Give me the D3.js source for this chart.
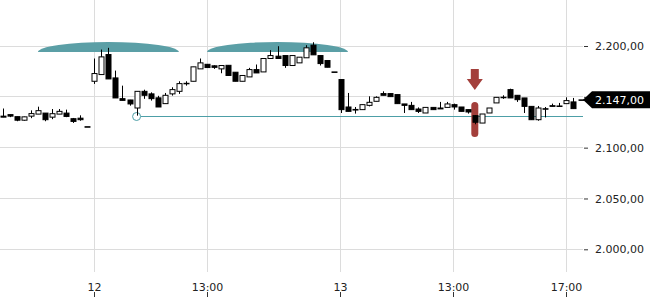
<!DOCTYPE html>
<html>
<head>
<meta charset="utf-8">
<script src="https://cdnjs.cloudflare.com/ajax/libs/d3/7.8.5/d3.min.js"></script>
<style>
body { margin: 0; background: #fff; }
svg { display: block; font-family: "DejaVu Sans", sans-serif; }
</style>
</head>
<body>
<script>
// candle values, one per 15 min bar
var opens = [2131, 2132.5, 2130.5, 2127, 2131, 2133, 2134, 2130, 2133, 2134, 2128.5, 2129, 2120.6,
	2165.3, 2171.9, 2191.6, 2168.6, 2148.2, 2146.9, 2139, 2155.4, 2152.9, 2149, 2143.3, 2152.9, 2155.4,
	2163.3, 2165.3, 2177.5, 2182, 2180.5, 2177.5, 2181, 2174.2, 2165.3, 2169.6, 2176.8, 2174.5, 2187.7,
	2190, 2190.6, 2180.8, 2183.4, 2188.4, 2200.8, 2190.6, 2185.7, 2174.5,
	2167, 2140, 2137.6, 2137.4, 2141.6, 2145.6, 2153.2, 2153.2, 2152.2, 2143, 2141.6, 2138, 2134.1,
	2139.6, 2139, 2139.6, 2142.3, 2140, 2137.4, 2131.5, 2124.2, 2134.1, 2144, 2149.6, 2157.1, 2151.5,
	2148.9, 2140.6, 2127.5, 2138.3, 2141.3, 2141, 2143.3, 2145, 2147];
var highs = [2138.5, 2132.5, 2130.5, 2130.5, 2136.7, 2140.3, 2134, 2138, 2138, 2137.4, 2129.2, 2131.8, 2120.6,
	2187.7, 2196.5, 2198.2, 2175.8, 2161, 2147, 2155.4, 2157, 2154.4, 2151, 2153.8, 2159.4, 2165.3,
	2165.3, 2179.5, 2187.7, 2182, 2181, 2180.8, 2181, 2174.2, 2171, 2178.5, 2181.8, 2187.7, 2195.9,
	2199.8, 2190.6, 2190.6, 2189, 2200.8, 2203.7, 2190.6, 2185.7, 2174.5,
	2167, 2153.8, 2140, 2142.3, 2150.5, 2150.5, 2155.4, 2153.2, 2152.2, 2143, 2145, 2139.6, 2139.6,
	2139.6, 2145, 2145, 2143.3, 2140, 2137.4, 2132, 2133.1, 2139, 2149.5, 2151.5, 2158, 2151.5,
	2148.9, 2140.6, 2141, 2140, 2143.3, 2144, 2149.5, 2148.9, 2147];
var lows = [2130, 2130, 2126, 2126.5, 2129, 2133, 2126, 2128, 2133, 2130, 2124.3, 2126.5, 2120.6,
	2162.7, 2171.9, 2167.6, 2148.9, 2146.5, 2141.3, 2131.5, 2148, 2146.3, 2140, 2143.3, 2151.2, 2152.9,
	2161, 2165.3, 2177.5, 2178.8, 2177.5, 2173.2, 2171, 2165.3, 2165.3, 2169.6, 2173.5, 2174.5, 2187.7,
	2187.7, 2178.5, 2180.8, 2183.4, 2188.4, 2191.3, 2180.8, 2179.1, 2174.5,
	2134.1, 2135.7, 2133.5, 2137.4, 2140.6, 2145.6, 2151.5, 2150.2, 2143.3, 2134.1, 2137.4, 2134.1, 2134.1,
	2137.4, 2138.1, 2139.6, 2137.4, 2135.7, 2133.5, 2123, 2124.2, 2134.1, 2144, 2148, 2148.9, 2145,
	2134.1, 2127.5, 2126.5, 2129.7, 2140.6, 2140.5, 2143.3, 2138.4, 2147];
var closes = [2130, 2131, 2127, 2130.3, 2133.5, 2136.4, 2127.5, 2133.4, 2135.7, 2130.7, 2125.8, 2127.5, 2120.6,
	2172.9, 2189.3, 2167.6, 2148.9, 2146.5, 2143, 2155.4, 2151.5, 2148.2, 2140, 2151.5, 2157.1, 2163,
	2163.3, 2179.5, 2183.4, 2178.8, 2179, 2180.8, 2171, 2165.3, 2171, 2176.8, 2173.5, 2187.7, 2190.6,
	2187.7, 2180.8, 2190.6, 2189, 2198.2, 2191.3, 2182.7, 2179.1, 2174.5,
	2137.4, 2135.7, 2137, 2142.3, 2144.6, 2149.5, 2151.5, 2150.2, 2143.3, 2141.6, 2137.4, 2135.7, 2139.6,
	2137.4, 2138.1, 2143, 2140, 2135.7, 2135.1, 2125, 2133.1, 2139, 2149.5, 2149.4, 2148.9, 2147.2,
	2140.6, 2127.5, 2139, 2138, 2140.6, 2140.5, 2146.3, 2138.4, 2147];

// time axis labels sit on bar numbers
var timeTickIndex = [13, 29, 48, 64, 80];
var timeTickLabels = ["12", "13:00", "13", "13:00", "17:00"];
var priceTicks = [2000, 2050, 2100, 2150, 2200];

var lastPrice = 2147;
var supportLevel = 2131.5;
var supportIndex = 19;
var domeRanges = [[5, 25], [29, 49]];
var markerIndex = 67;

var width = 650, height = 300;
var plotRight = 583;

var svg = d3.select("body").append("svg")
	.attr("width", width)
	.attr("height", height);

var x = d3.scaleLinear().domain([0, opens.length - 1]).range([2.7, 580.5]);
var y = d3.scaleLinear().domain([2000, 2200]).range([249.3, 46]);

var de = d3.formatLocale({decimal: ",", thousands: ".", grouping: [3], currency: ["", " €"]});
var priceFormat = de.format(",.2f");

// grid
svg.append("g").selectAll("line")
	.data(priceTicks)
	.enter().append("line")
	.attr("x1", 0).attr("x2", plotRight)
	.attr("y1", function(d) { return Math.floor(y(d)) + 0.5; })
	.attr("y2", function(d) { return Math.floor(y(d)) + 0.5; })
	.attr("stroke", "#dcdcdc");

svg.append("g").selectAll("line")
	.data(timeTickIndex)
	.enter().append("line")
	.attr("x1", function(d) { return Math.floor(x(d)) + 0.5; })
	.attr("x2", function(d) { return Math.floor(x(d)) + 0.5; })
	.attr("y1", 0).attr("y2", 272)
	.attr("stroke", "#dcdcdc");

// domes over the highs
svg.append("g").selectAll("path")
	.data(domeRanges)
	.enter().append("path")
	.attr("d", function(d) {
		var x0 = x(d[0]), x1 = x(d[1]);
		var rx = (x1 - x0) / 2;
		return "M" + x0 + ",52 A" + rx + ",10 0 0 1 " + x1 + ",52 Z";
	})
	.attr("fill", "#5b9fa6");

// support line from the marked low
var sy = Math.round(y(supportLevel)) + 0.5;
svg.append("line")
	.attr("x1", x(supportIndex) + 4).attr("x2", plotRight)
	.attr("y1", sy).attr("y2", sy)
	.attr("stroke", "#4d9fa7");
svg.append("circle")
	.attr("cx", x(supportIndex)).attr("cy", sy)
	.attr("r", 4)
	.attr("fill", "#fff")
	.attr("stroke", "#4d9fa7");

// red marker
var mx = x(markerIndex);
svg.append("rect")
	.attr("x", mx - 3.5).attr("y", 102)
	.attr("width", 7).attr("height", 35)
	.attr("rx", 3.5)
	.attr("fill", "#a33f3b");
svg.append("path")
	.attr("d", "M" + (mx - 4) + ",69 L" + (mx + 4) + ",69 L" + (mx + 4) + ",79 L" + (mx + 8) + ",79 L" + mx + ",90 L" + (mx - 8) + ",79 L" + (mx - 4) + ",79 Z")
	.attr("fill", "#a33f3b");

// candles
var candles = svg.append("g").selectAll("g")
	.data(opens.map(function(o, i) { return {i: i, o: o, h: highs[i], l: lows[i], c: closes[i]}; }))
	.enter().append("g");

candles.append("line")
	.attr("x1", function(d) { return Math.round(x(d.i)) + 0.5; })
	.attr("x2", function(d) { return Math.round(x(d.i)) + 0.5; })
	.attr("y1", function(d) { return y(d.h); })
	.attr("y2", function(d) { return y(d.l); })
	.attr("stroke", "#000");

candles.append("rect")
	.attr("x", function(d) { return Math.round(x(d.i)) - 2; })
	.attr("width", 5)
	.attr("y", function(d) { return y(Math.max(d.o, d.c)); })
	.attr("height", function(d) { return Math.max(0.5, Math.abs(y(d.o) - y(d.c))); })
	.attr("fill", function(d) { return d.c > d.o ? "#fff" : "#000"; })
	.attr("stroke", "#000");

// price axis on the right, the label under the price tag stays hidden
var yAxis = svg.append("g")
	.attr("transform", "translate(" + (plotRight + 1) + ",0)")
	.call(d3.axisRight(y).tickValues(priceTicks)
		.tickFormat(function(d) { return Math.abs(y(d) - y(lastPrice)) < 12 ? "" : priceFormat(d); })
		.tickSize(4).tickPadding(7));
yAxis.select(".domain").remove();
yAxis.selectAll("line").attr("stroke", "#333");
yAxis.selectAll("text").attr("fill", "#222").style("font-size", "11px").style("font-family", "DejaVu Sans");

// time labels
var xl = svg.append("g").selectAll("g")
	.data(timeTickIndex)
	.enter().append("g");
xl.append("text")
	.attr("x", function(d) { return Math.floor(x(d)) + 0.5; })
	.attr("y", 291)
	.attr("text-anchor", "middle")
	.attr("fill", "#222")
	.style("font-size", "11px")
	.text(function(d, i) { return timeTickLabels[i]; });
xl.append("line")
	.attr("x1", function(d) { return Math.floor(x(d)) + 0.5; })
	.attr("x2", function(d) { return Math.floor(x(d)) + 0.5; })
	.attr("y1", 292).attr("y2", 297)
	.attr("stroke", "#333");

// last price tag
var ty = y(lastPrice);
svg.append("path")
	.attr("d", "M" + plotRight + "," + ty + " L" + (plotRight + 9) + "," + (ty - 8.5) + " L650," + (ty - 8.5) + " L650," + (ty + 8.5) + " L" + (plotRight + 9) + "," + (ty + 8.5) + " Z")
	.attr("fill", "#000");
svg.append("text")
	.attr("x", 595).attr("y", ty)
	.attr("dy", "0.35em")
	.attr("fill", "#fff")
	.style("font-size", "11px")
	.text(priceFormat(lastPrice));
</script>
</body>
</html>
